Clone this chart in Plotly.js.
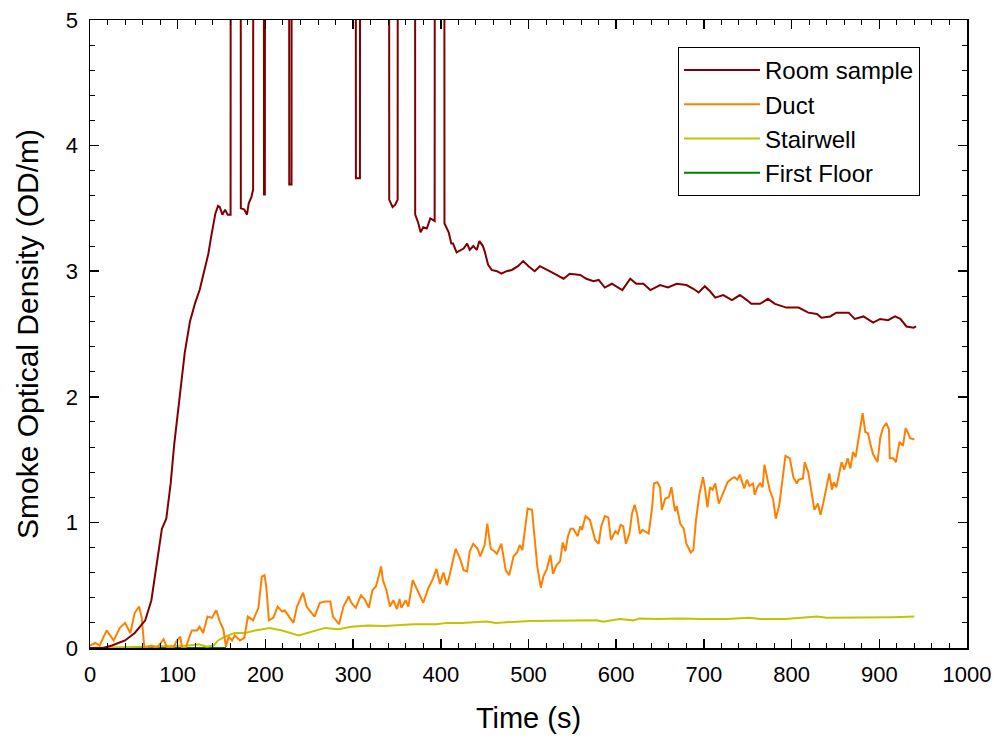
<!DOCTYPE html>
<html><head><meta charset="utf-8">
<script src="https://cdn.plot.ly/plotly-3.0.1.min.js"></script>
<style>body{margin:0;background:#fff}#chart{width:998px;height:746px}</style>
</head><body><div id="chart"></div>
<script>
const roomT = [0,15,25,40,51,63,70,76,82,87,92,96,100,104,108,114,120,125,130,135,138,141,143,146,148,151,154,157,160.3,160.5,171.8,172,176,179,181,184,186,186.2,198.2,198.4,199.4,199.6,227,227.2,229.8,230,303,303.2,307.8,308,341,341.2,345,348,350.8,351,370.6,370.8,374,377,380,384,388,393,393.2,404,404.2,409,412,414,418,426,430,433,437,441,444,448,450,454,458,464,469,475,481,488,494,500,507,513,519,524,532,540,547,559,566,574,580,587,595,600,607,616,623,631,639,650,659,669,680,688,694,701,707,713,722,732,741,749,754,764,773,781,794,808,819,829,834,844,851,865,872,882,893,901,910,918,924,931,939,942];
const roomY = [0,0,0.02,0.06,0.12,0.22,0.38,0.68,0.95,1.03,1.31,1.62,1.88,2.1,2.35,2.6,2.75,2.85,3.0,3.14,3.27,3.38,3.46,3.52,3.51,3.45,3.49,3.45,3.45,7,7,3.50,3.49,3.45,3.54,3.59,3.65,7,7,3.61,3.61,7,7,3.69,3.69,7,7,3.74,3.74,7,7,3.57,3.51,3.53,3.57,7,7,3.45,3.39,3.31,3.35,3.34,3.42,3.40,7,7,3.38,3.31,3.22,3.22,3.15,3.18,3.22,3.17,3.20,3.17,3.24,3.20,3.16,3.05,3.01,3.00,2.98,3.00,3.01,3.04,3.08,3.04,3.00,3.04,3.02,3.00,2.97,2.94,2.98,2.97,2.94,2.92,2.93,2.87,2.90,2.88,2.85,2.94,2.90,2.90,2.85,2.89,2.87,2.90,2.89,2.86,2.83,2.88,2.84,2.79,2.81,2.77,2.81,2.77,2.74,2.74,2.78,2.74,2.71,2.71,2.67,2.66,2.63,2.64,2.67,2.67,2.62,2.64,2.59,2.62,2.61,2.64,2.62,2.56,2.55,2.56];

const ductT = [0,6,11,19,27,34,40,46,51,56,59,62,70,76,84,88,95,99,103,105,109,116,122,125,129,134,139,144,148,152,155,158,162,165,171,176,180,186,192,196,199,201,204,209,214,219,222,228,232,236,239,243,247,253,256,262,268,274,277,284,289,295,298,303,309,313,318,322,326,328,332,334,338,342,346,350,353,355,360,363,368,372,380,386,391,395,399,403,407,410,413,417,422,426,430,433,437,442,445,450,453,457,461,464,469,474,478,483,487,490,493,496,499,504,507,510,514,517,521,525,528,532,536,539,542,545,548,551,556,559,561,565,570,573,576,580,583,587,591,594,599,602,605,608,611,615,618,621,624,627,630,637,641,643,647,650,652,656,660,663,667,669,673,677,680,685,688,691,695,699,701,704,707,710,713,717,722,727,732,735,738,741,746,749,752,756,758,761,764,767,769,772,775,779,782,786,790,793,798,802,806,808,813,815,819,824,826,830,833,836,840,843,846,848,851,855,857,860,864,867,870,873,877,881,884,887,890,893,898,901,904,908,911,912,916,919,923,927,930,933,935,940];
const ductY = [0.02,0.04,0.02,0.14,0.06,0.16,0.20,0.12,0.28,0.33,0.24,0.0,0.02,0.0,0.07,0.0,0.0,0.06,0.09,0.0,0.0,0.14,0.14,0.17,0.12,0.25,0.24,0.30,0.21,0.15,0.01,0.09,0.06,0.10,0.06,0.08,0.25,0.22,0.32,0.57,0.58,0.49,0.22,0.24,0.33,0.29,0.30,0.24,0.20,0.33,0.38,0.44,0.33,0.28,0.25,0.36,0.37,0.37,0.25,0.19,0.33,0.41,0.36,0.32,0.42,0.39,0.32,0.46,0.49,0.54,0.65,0.54,0.46,0.33,0.38,0.31,0.39,0.32,0.38,0.33,0.54,0.48,0.36,0.48,0.55,0.63,0.51,0.60,0.50,0.58,0.67,0.79,0.71,0.62,0.61,0.77,0.83,0.79,0.73,0.82,0.99,0.79,0.77,0.75,0.83,0.62,0.58,0.73,0.76,0.82,0.78,0.94,1.11,1.10,0.89,0.65,0.48,0.57,0.63,0.74,0.59,0.66,0.69,0.84,0.77,0.89,0.95,0.95,0.89,0.97,0.94,1.05,1.02,0.94,0.86,0.83,0.97,1.05,1.04,0.86,0.93,0.91,0.98,0.97,0.83,0.91,1.07,1.14,1.06,0.91,0.94,0.91,1.12,1.31,1.32,1.28,1.10,1.19,1.20,1.28,1.09,1.13,0.99,0.95,0.83,0.76,0.78,1.02,1.23,1.36,1.28,1.12,1.28,1.26,1.31,1.15,1.23,1.32,1.35,1.36,1.34,1.38,1.27,1.34,1.29,1.31,1.22,1.28,1.31,1.28,1.46,1.36,1.26,1.18,1.03,1.14,1.35,1.53,1.51,1.36,1.31,1.34,1.35,1.48,1.40,1.20,1.10,1.15,1.06,1.15,1.28,1.39,1.26,1.32,1.28,1.40,1.48,1.42,1.51,1.43,1.56,1.52,1.70,1.87,1.72,1.71,1.62,1.54,1.48,1.67,1.75,1.79,1.74,1.51,1.51,1.48,1.64,1.61,1.75,1.71,1.67,1.66];

const stairT = [0,112,124,133,141,146,154,165,177,188,205,219,238,253,268,283,298,317,336,369,395,407,424,452,463,502,551,578,585,604,619,627,646,673,699,726,752,764,793,829,840,878,916,940];
const stairY = [0,0.02,0.03,0.01,0.02,0.06,0.09,0.12,0.12,0.14,0.16,0.14,0.10,0.13,0.16,0.15,0.17,0.18,0.175,0.19,0.19,0.20,0.20,0.21,0.20,0.215,0.22,0.22,0.21,0.23,0.22,0.235,0.23,0.235,0.23,0.23,0.24,0.23,0.23,0.25,0.24,0.24,0.245,0.25];

const floorT = [0,155];
const floorY = [0,0];

const names = ['Room sample','Duct','Stairwell','First Floor'];
const colors = ['#800000','#ff8000','#c3c300','#008000'];

const traces = [
  {x: floorT, y: floorY, name: names[3], line:{color:colors[3], width:2}},
  {x: stairT, y: stairY, name: names[2], line:{color:colors[2], width:2}},
  {x: ductT, y: ductY, name: names[1], line:{color:colors[1], width:2}},
  {x: roomT, y: roomY, name: names[0], line:{color:colors[0], width:2}}
].map(t => Object.assign({type:'scatter', mode:'lines'}, t));

const FONT = 'Liberation Sans, Arial, sans-serif';
const axisCommon = {
  showgrid:false, zeroline:false, showline:true, linecolor:'#000', linewidth:1.5,
  mirror:'ticks', ticks:'inside', ticklen:9, tickwidth:1.5, tickcolor:'#000',
  tickfont:{family:FONT, size:22, color:'#000'}, ticklabelstandoff:6
};

const layout = {
  width:998, height:746,
  margin:{l:90, r:31, t:20, b:98},
  paper_bgcolor:'#fff', plot_bgcolor:'#fff',
  font:{family:FONT, color:'#000'},
  xaxis: Object.assign({}, axisCommon, {
    range:[0,1000], dtick:100, tick0:0,
    minor:{dtick:20, ticks:'inside', ticklen:5, tickwidth:1, tickcolor:'#000'},
    title:{text:'Time (s)', font:{size:29}, standoff:22}
  }),
  yaxis: Object.assign({}, axisCommon, {
    range:[0,5], dtick:1, tick0:0,
    minor:{dtick:0.2, ticks:'inside', ticklen:5, tickwidth:1, tickcolor:'#000'},
    title:{text:'Smoke Optical Density (OD/m)', font:{size:30}, standoff:18}
  }),
  legend:{
    x:0.6705, y:0.957, xanchor:'left', yanchor:'top',
    bgcolor:'#fff', bordercolor:'#000', borderwidth:1,
    font:{size:24, color:'#000'}, traceorder:'reversed',
    tracegroupgap:0, itemwidth:76
  },
  showlegend:true
};

Plotly.newPlot('chart', traces, layout, {displayModeBar:false, staticPlot:true});
</script>
</body></html>
